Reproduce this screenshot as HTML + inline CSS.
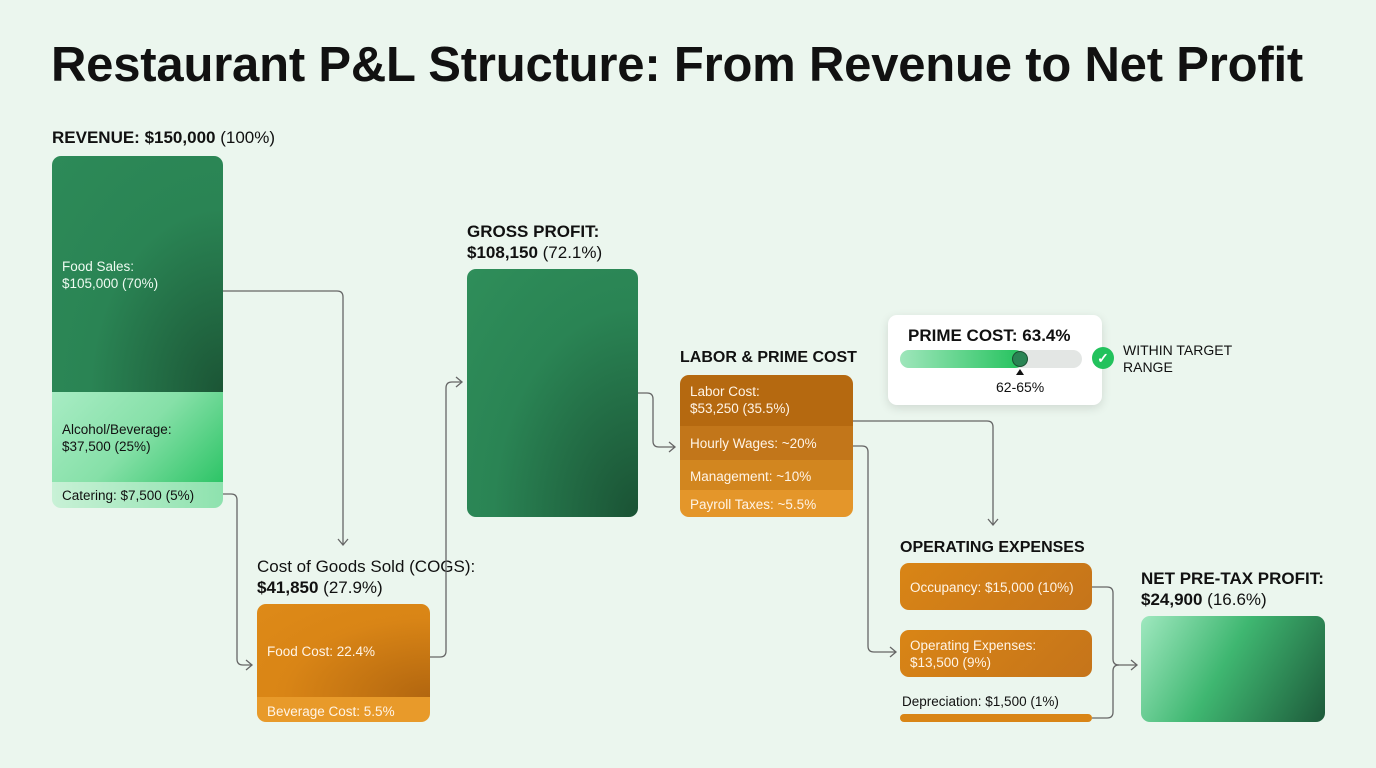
<!DOCTYPE html>
<html><head><meta charset="utf-8"><style>
*{margin:0;padding:0;box-sizing:border-box}
body{width:1376px;height:768px;overflow:hidden;background:#ebf6ee;font-family:"Liberation Sans",sans-serif;position:relative;color:#111}
.a{position:absolute}
.t{font-size:13.5px;line-height:17px}
.w{color:#fff4e6}
h1{position:absolute;left:51px;top:37px;font-size:49px;font-weight:bold;letter-spacing:-0.2px;color:#111;white-space:nowrap}
.lbl{font-size:17px;line-height:21px;white-space:nowrap}
.s16{font-size:16px}
.lbl b{font-weight:bold}
</style></head><body>
<h1>Restaurant P&amp;L Structure: From Revenue to Net Profit</h1>

<div class="a lbl" style="left:52px;top:127px"><b>REVENUE: $150,000</b> (100%)</div>
<div class="a" style="left:52px;top:156px;width:171px;height:352px;border-radius:9px;overflow:hidden">
 <div class="a" style="left:0;top:0;width:171px;height:236px;background:radial-gradient(ellipse at 100% 100%,#1b5535 0%,#2a8454 55%,#2d8a58 100%)"></div>
 <div class="a" style="left:0;top:236px;width:171px;height:90px;background:linear-gradient(135deg,#a8ecc4 0%,#86e0a8 50%,#2dc466 100%)"></div>
 <div class="a" style="left:0;top:326px;width:171px;height:26px;background:linear-gradient(90deg,#c8f1d6,#8ee2ae)"></div>
 <div class="a t" style="left:10px;top:102px;color:#eefaf1">Food Sales:<br>$105,000 (70%)</div>
 <div class="a t" style="left:10px;top:265px">Alcohol/Beverage:<br>$37,500 (25%)</div>
 <div class="a t" style="left:10px;top:331px">Catering: $7,500 (5%)</div>
</div>

<div class="a lbl" style="left:257px;top:556px">Cost of Goods Sold (COGS):<br><b>$41,850</b> (27.9%)</div>
<div class="a" style="left:257px;top:604px;width:173px;height:118px;border-radius:9px;overflow:hidden">
 <div class="a" style="left:0;top:0;width:173px;height:93px;background:radial-gradient(ellipse at 100% 100%,#b2660f 0%,#d98516 60%,#de8a18 100%)"></div>
 <div class="a" style="left:0;top:93px;width:173px;height:25px;background:#e89a2a"></div>
 <div class="a t w" style="left:10px;top:39px">Food Cost: 22.4%</div>
 <div class="a t w" style="left:10px;top:99px">Beverage Cost: 5.5%</div>
</div>

<div class="a lbl" style="left:467px;top:221px"><b>GROSS PROFIT:<br>$108,150</b> (72.1%)</div>
<div class="a" style="left:467px;top:269px;width:171px;height:248px;border-radius:9px;background:radial-gradient(ellipse at 100% 100%,#1a5234 0%,#2a8454 60%,#2f8e5a 100%)"></div>

<div class="a lbl s16" style="left:680px;top:347px"><b>LABOR &amp; PRIME COST</b></div>
<div class="a" style="left:680px;top:375px;width:173px;height:142px;border-radius:9px;overflow:hidden">
 <div class="a" style="left:0;top:0;width:173px;height:51px;background:#b56910"></div>
 <div class="a" style="left:0;top:51px;width:173px;height:34px;background:#c2761a"></div>
 <div class="a" style="left:0;top:85px;width:173px;height:30px;background:#d2861f"></div>
 <div class="a" style="left:0;top:115px;width:173px;height:27px;background:#e4962a"></div>
 <div class="a t w" style="left:10px;top:8px">Labor Cost:<br>$53,250 (35.5%)</div>
 <div class="a t w" style="left:10px;top:60px">Hourly Wages: ~20%</div>
 <div class="a t w" style="left:10px;top:93px">Management: ~10%</div>
 <div class="a t w" style="left:10px;top:121px">Payroll Taxes: ~5.5%</div>
</div>

<div class="a" style="left:888px;top:315px;width:214px;height:90px;background:#fff;border-radius:9px;box-shadow:0 3px 10px rgba(0,0,0,.12)"></div>
<div class="a lbl" style="left:908px;top:325px"><b>PRIME COST: 63.4%</b></div>
<div class="a" style="left:900px;top:350px;width:182px;height:18px;border-radius:9px;background:#e3e6e4"></div>
<div class="a" style="left:900px;top:350px;width:124px;height:18px;border-radius:9px;background:linear-gradient(90deg,#9fe6bb,#22c25c)"></div>
<div class="a" style="left:1012px;top:351px;width:16px;height:16px;border-radius:50%;background:#2a8454;border:1.5px solid #1a4f31"></div>
<div class="a" style="left:1016px;top:369px;width:0;height:0;border-left:4px solid transparent;border-right:4px solid transparent;border-bottom:6px solid #111"></div>
<div class="a t" style="left:996px;top:379px;font-size:14px">62-65%</div>
<div class="a" style="left:1092px;top:347px;width:22px;height:22px;border-radius:50%;background:#22c25c;color:#fff;font-size:14px;text-align:center;line-height:22px;font-weight:bold">✓</div>
<div class="a t" style="left:1123px;top:342px;font-size:14px">WITHIN TARGET<br>RANGE</div>

<div class="a lbl s16" style="left:900px;top:537px"><b>OPERATING EXPENSES</b></div>
<div class="a" style="left:900px;top:563px;width:192px;height:47px;border-radius:9px;background:linear-gradient(135deg,#d98516,#c5741a)"></div>
<div class="a t w" style="left:910px;top:579px">Occupancy: $15,000 (10%)</div>
<div class="a" style="left:900px;top:630px;width:192px;height:47px;border-radius:9px;background:linear-gradient(135deg,#d98516,#c5741a)"></div>
<div class="a t w" style="left:910px;top:637px">Operating Expenses:<br>$13,500 (9%)</div>
<div class="a t" style="left:902px;top:693px">Depreciation: $1,500 (1%)</div>
<div class="a" style="left:900px;top:714px;width:192px;height:8px;border-radius:4px;background:#d98516"></div>

<div class="a lbl" style="left:1141px;top:568px"><b>NET PRE-TAX PROFIT:<br>$24,900</b> (16.6%)</div>
<div class="a" style="left:1141px;top:616px;width:184px;height:106px;border-radius:9px;background:linear-gradient(120deg,#9fe8bf 0%,#3fb771 45%,#1d5a3a 100%)"></div>

<svg class="a" style="left:0;top:0" width="1376" height="768" fill="none" stroke="#666" stroke-width="1.3">
<path d="M223 291H337q6 0 6 6V545"/><path d="M338 539l5 6 5-6"/>
<path d="M223 494h8q6 0 6 6V659q0 6 6 6h9"/><path d="M246 660l6 5-6 5"/>
<path d="M430 657h10q6 0 6-6V388q0-6 6-6h10"/><path d="M456 377l6 5-6 5"/>
<path d="M638 393h9q6 0 6 6V441q0 6 6 6h16"/><path d="M669 442l6 5-6 5"/>
<path d="M853 421H987q6 0 6 6V525"/><path d="M988 519l5 6 5-6"/>
<path d="M853 446h9q6 0 6 6V646q0 6 6 6h22"/><path d="M890 647l6 5-6 5"/>
<path d="M1092 587h15q6 0 6 6V659q0 6 6 6h18"/><path d="M1131 660l6 5-6 5"/>
<path d="M1092 718h15q6 0 6-6V671q0-6 6-6"/>
</svg>
</body></html>
